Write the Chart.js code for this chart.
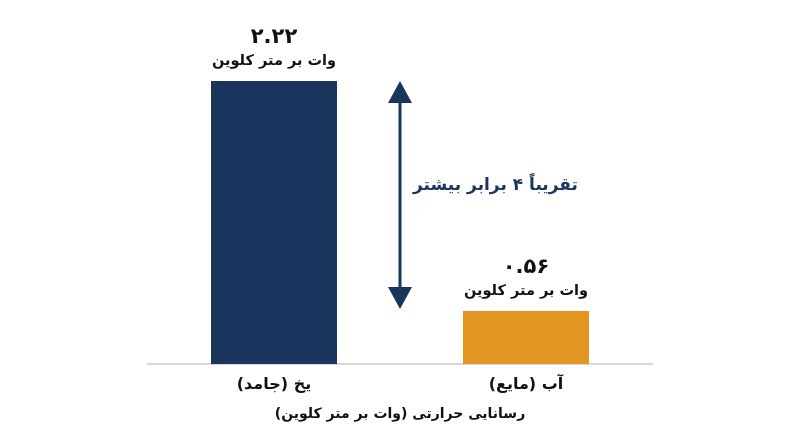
<!DOCTYPE html>
<html lang="fa">
<head>
<meta charset="utf-8">
<script src="https://cdn.jsdelivr.net/npm/chart.js@4"></script>
<style>
  html, body { margin: 0; padding: 0; background: #fff; }
  #wrap { width: 800px; height: 447px; }
</style>
</head>
<body>
<div id="wrap"><canvas id="chart" dir="rtl"></canvas></div>
<script>
const categories = ['یخ (جامد)', 'آب (مایع)'];
const values = [2.22, 0.56];
const valueLabels = ['۲.۲۲', '۰.۵۶'];
const unitLabel = 'وات بر متر کلوین';
const axisTitle = 'رسانایی حرارتی (وات بر متر کلوین)';
const compareLabel = 'تقریباً ۴ برابر بیشتر';
const barColors = ['#1b365e', '#e29521'];

const FONT = '"DejaVu Sans", sans-serif';
const NAVY = '#1b365e';

// labels above the bars and the comparison arrow
const annotate = {
  id: 'annotate',
  afterDatasetsDraw(chart) {
    const ctx = chart.ctx;
    const meta = chart.getDatasetMeta(0);
    ctx.save();
    ctx.direction = 'rtl';
    ctx.textAlign = 'center';
    ctx.textBaseline = 'middle';
    ctx.fillStyle = '#111';
    meta.data.forEach((bar, i) => {
      ctx.font = 'bold 21px ' + FONT;
      ctx.fillText(valueLabels[i], bar.x, bar.y - 43);
      ctx.font = 'bold 14.5px ' + FONT;
      ctx.fillText(unitLabel, bar.x, bar.y - 20);
    });

    const x = chart.scales.x.getPixelForValue(0.5);
    const yTop = chart.scales.y.getPixelForValue(values[0]);
    const yBot = chart.scales.y.getPixelForValue(values[1]) - 2;
    ctx.strokeStyle = NAVY;
    ctx.fillStyle = NAVY;
    ctx.lineWidth = 3;
    ctx.beginPath();
    ctx.moveTo(x, yTop + 15);
    ctx.lineTo(x, yBot - 15);
    ctx.stroke();
    const head = (tipY, dir) => {
      ctx.beginPath();
      ctx.moveTo(x, tipY);
      ctx.lineTo(x - 12, tipY + dir * 22);
      ctx.lineTo(x + 12, tipY + dir * 22);
      ctx.closePath();
      ctx.fill();
    };
    head(yTop, 1);
    head(yBot, -1);

    ctx.font = 'bold 17px ' + FONT;
    ctx.textAlign = 'left';
    ctx.fillText(compareLabel, x + 13, (yTop + yBot) / 2 - 9);
    ctx.restore();
  }
};

new Chart(document.getElementById('chart'), {
  type: 'bar',
  data: {
    labels: categories,
    datasets: [{
      data: values,
      backgroundColor: barColors,
      borderWidth: 0,
      categoryPercentage: 0.5,
      barPercentage: 1
    }]
  },
  options: {
    responsive: true,
    maintainAspectRatio: false,
    animation: false,
    layout: { padding: { top: 81, left: 148, right: 148, bottom: 24 } },
    plugins: {
      legend: { display: false },
      tooltip: { enabled: false }
    },
    scales: {
      y: {
        display: false,
        min: 0.177,
        max: 2.22
      },
      x: {
        grid: { display: false, drawTicks: false },
        border: { display: true, color: '#d6d6d6', width: 2 },
        ticks: {
          color: '#111',
          padding: 11,
          font: { family: FONT, size: 16, weight: 'bold', lineHeight: 1.2 }
        },
        title: {
          display: true,
          text: axisTitle,
          color: '#111',
          padding: { top: 1, bottom: 0 },
          font: { family: FONT, size: 14, weight: 'bold', lineHeight: 1.2 }
        }
      }
    }
  },
  plugins: [annotate]
});
</script>
</body>
</html>
